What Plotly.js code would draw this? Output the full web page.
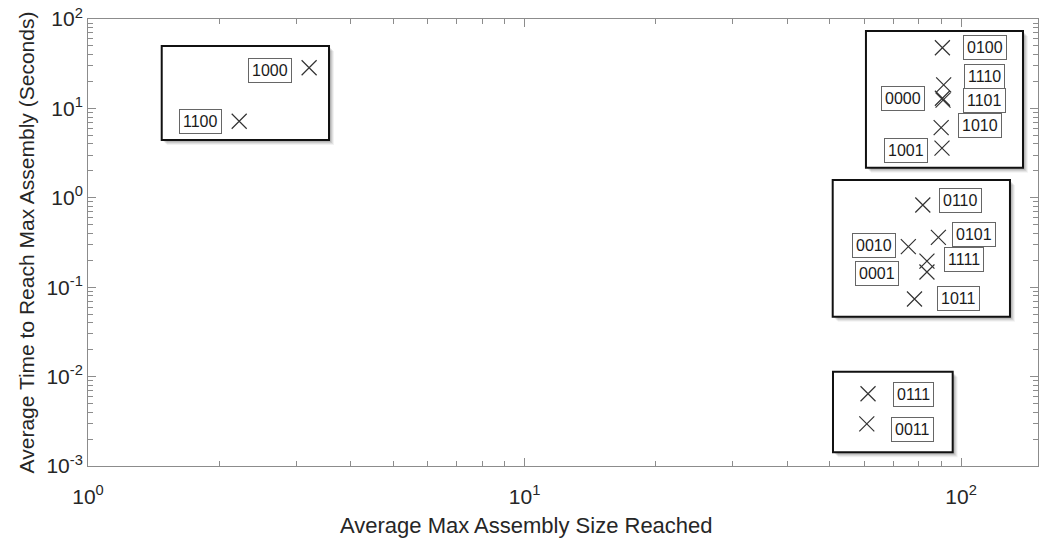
<!DOCTYPE html>
<html>
<head>
<meta charset="utf-8">
<script src="https://cdn.plot.ly/plotly-3.0.1.min.js"></script>
<style>
  html, body { margin: 0; padding: 0; background: #fff; }
  #chart { width: 1045px; height: 538px; }
</style>
</head>
<body>
<div id="chart"></div>
<script>
// Binary configuration codes and their measured averages
const codes = ['1000', '1100', '0100', '1110', '0000', '1101', '1010', '1001',
               '0110', '0101', '0010', '1111', '0001', '1011', '0111', '0011'];
const avgMaxSize = [3.21, 2.22, 90.6, 91.2, 90.6, 90.9, 90.0, 90.4,
                    81.7, 88.7, 75.7, 83.5, 83.5, 78.2, 61.2, 60.8];
const avgTimeToMax = [28.5, 7.18, 47.7, 18.3, 13.0, 12.4, 6.1, 3.6,
                      0.831, 0.361, 0.284, 0.196, 0.148, 0.0738, 0.00643, 0.00296];

// Tick labels
const xTickVals = [1, 10, 100];
const xTickText = ['10<sup>0</sup>', '10<sup>1</sup>', '10<sup>2</sup>'];
const yTickVals = [0.001, 0.01, 0.1, 1, 10, 100];
const yTickText = ['10<sup>-3</sup>', '10<sup>-2</sup>', '10<sup>-1</sup>',
                   '10<sup>0</sup>', '10<sup>1</sup>', '10<sup>2</sup>'];

const xTitle = 'Average Max Assembly Size Reached';
const yTitle = 'Average Time to Reach Max Assembly (Seconds)';

// Label placement next to each marker (pixels; +y is up)
const labelShiftX = [-39, -39, 43, 41, -39, 41, 39, -36,
                     38, 36, -34, 37, -50, 44, 45, 46];
const labelShiftY = [-3, 0, 0, 8, 0, 0, 2, -2,
                     4, 3, 1, 2, -2, 1, -1, -6];

// Group frames in paper coordinates [x0, x1, y0, y1]
const groupFrames = [
  [0.0776, 0.2537, 0.7293, 0.9396],
  [0.8189, 0.9842, 0.6673, 0.9732],
  [0.7839, 0.9705, 0.3340, 0.6398],
  [0.7842, 0.9102, 0.0306, 0.2110]
];

const plotW = 1045 - 88 - 7;
const plotH = 538 - 19 - 72;
const FONT = 'Liberation Sans, Arial, sans-serif';
const INK = '#262626';

function minorTicks(lo, hi) {
  const out = [];
  for (let e = lo; e < hi; e++) {
    for (let m = 2; m <= 9; m++) out.push(m * Math.pow(10, e));
  }
  return out;
}

const shapes = [];
groupFrames.forEach(f => {
  // soft drop shadow
  [[5, 0.05], [4, 0.07], [3, 0.09], [2, 0.10]].forEach(([off, a]) => {
    shapes.push({
      type: 'rect', xref: 'paper', yref: 'paper', layer: 'below',
      x0: f[0] + off / plotW, x1: f[1] + off / plotW,
      y0: f[2] - off / plotH, y1: f[3] - off / plotH,
      line: { width: 0 }, fillcolor: 'rgba(0,0,0,' + a + ')'
    });
  });
  shapes.push({
    type: 'rect', xref: 'paper', yref: 'paper', layer: 'below',
    x0: f[0], x1: f[1], y0: f[2], y1: f[3],
    line: { width: 2, color: '#111' }, fillcolor: '#ffffff'
  });
});

const annotations = codes.map((c, i) => ({
  x: Math.log10(avgMaxSize[i]),
  y: Math.log10(avgTimeToMax[i]),
  xref: 'x', yref: 'y',
  text: c,
  showarrow: false,
  xshift: labelShiftX[i],
  yshift: labelShiftY[i],
  xanchor: 'center', yanchor: 'middle',
  font: { family: FONT, size: 16, color: '#1a1a1a' },
  bgcolor: '#ffffff',
  bordercolor: '#666666',
  borderwidth: 1,
  borderpad: 3
}));

// x-axis title, placed as in the original figure
annotations.push({
  xref: 'paper', yref: 'paper',
  x: 0.462, y: -0.134,
  xanchor: 'center', yanchor: 'middle',
  text: xTitle,
  showarrow: false,
  font: { family: FONT, size: 22, color: INK }
});

const trace = {
  type: 'scatter',
  mode: 'markers',
  x: avgMaxSize,
  y: avgTimeToMax,
  text: codes,
  hoverinfo: 'text+x+y',
  marker: {
    symbol: 'x-thin',
    size: 15,
    color: '#333333',
    line: { width: 1.2, color: '#333333' }
  },
  showlegend: false
};

const axisCommon = {
  type: 'log',
  showline: true,
  linecolor: '#8c8c8c',
  linewidth: 1,
  mirror: 'ticks',
  ticks: 'inside',
  ticklen: 8,
  tickwidth: 1,
  tickcolor: '#8c8c8c',
  tickmode: 'array',
  showgrid: false,
  zeroline: false,
  tickfont: { family: FONT, size: 21, color: INK }
};

const layout = {
  width: 1045,
  height: 538,
  margin: { l: 88, r: 7, t: 19, b: 72, pad: 0 },
  paper_bgcolor: '#ffffff',
  plot_bgcolor: 'rgba(0,0,0,0)',
  font: { family: FONT, color: INK },
  xaxis: Object.assign({}, axisCommon, {
    range: [0, Math.log10(150)],
    tickvals: xTickVals,
    ticktext: xTickText,
    ticklabelstandoff: 12,
    minor: { tickmode: 'array', tickvals: minorTicks(0, 3).filter(v => v < 150),
             ticks: 'inside', ticklen: 5, tickcolor: '#8c8c8c', showgrid: false }
  }),
  yaxis: Object.assign({}, axisCommon, {
    range: [-3, 2],
    tickvals: yTickVals,
    ticktext: yTickText,
    minor: { tickmode: 'array', tickvals: minorTicks(-3, 2),
             ticks: 'inside', ticklen: 5, tickcolor: '#8c8c8c', showgrid: false },
    title: { text: yTitle, font: { size: 21, color: INK }, standoff: 6 }
  }),
  shapes: shapes,
  annotations: annotations
};

Plotly.newPlot('chart', [trace], layout, { displayModeBar: false, staticPlot: true });
</script>
</body>
</html>
